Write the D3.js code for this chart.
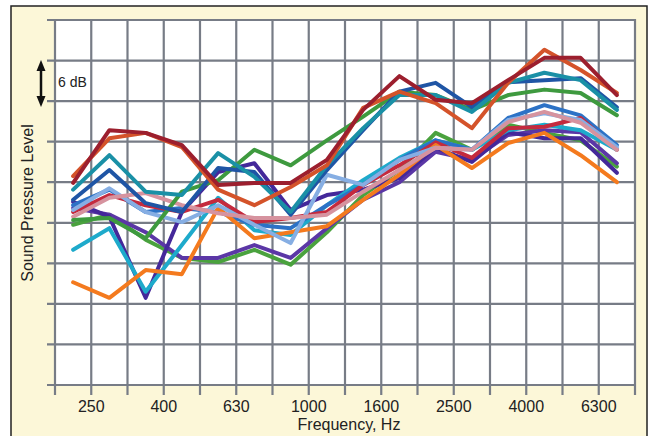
<!DOCTYPE html>
<html>
<head>
<meta charset="utf-8">
<script src="https://cdn.jsdelivr.net/npm/d3@7"></script>
<style>
  body { margin: 0; background: #fff; }
  text { font-family: "Liberation Sans", Arial, sans-serif; fill: #222; }
</style>
</head>
<body>
<div id="chart"></div>
<script>
// 1/3 octave band edges (grid lines) and the labels under every other one
let bands = ["200","250","315","400","500","630","800","1000","1250","1600","2000","2500","3150","4000","5000","6300","8000"];
let tickLabels = ["250","400","630","1000","1600","2500","4000","6300"];

// levels in dB (relative), one value per band
let darkRed   = [29.9,37.7,37.3,35.5,29.6,29.9,29.9,33.3,40.7,45.7,42.2,41.7,45.1,48.4,48.4,42.9];
let orangeRed = [30.9,36.5,37.3,35.2,28.9,26.6,29.3,32.5,41.0,43.4,41.7,38.0,44.7,49.6,46.6,43.2];
let teal      = [28.9,34.0,28.6,28.1,34.3,30.8,25.6,32.5,38.0,42.9,42.9,40.4,44.7,46.2,45.1,40.7];
let darkBlue  = [27.4,31.8,26.9,25.6,32.1,31.5,25.2,31.8,37.7,43.4,44.7,41.1,44.8,45.1,45.4,41.1];
let greenHi   = [24.4,24.7,21.7,28.6,30.3,34.8,32.5,36.2,39.7,43.4,42.9,40.7,42.9,43.7,43.2,39.9];
let greenLo   = [23.7,25.2,21.5,18.8,18.2,20.0,17.8,22.6,28.1,31.8,37.3,34.8,38.5,37.3,36.2,32.3];
let cyan      = [20.0,23.2,13.8,20.7,27.7,22.9,22.2,26.6,30.3,33.6,36.2,34.8,37.7,38.5,37.7,34.8];
let indigo    = [27.1,24.9,12.9,25.6,31.5,32.8,25.9,28.1,28.9,30.6,35.1,33.0,37.4,36.5,36.5,31.4];
let violet    = [26.2,25.2,22.6,18.8,18.8,20.7,18.8,23.2,27.4,30.0,34.5,33.3,37.0,37.7,37.4,32.8];
let orange    = [15.2,12.9,17.0,16.4,26.2,21.7,22.6,23.5,27.4,31.1,35.5,32.1,35.8,37.3,34.0,30.0];
let lightBlue = [25.9,29.1,25.6,24.1,26.6,23.7,21.0,31.1,29.6,33.3,35.1,34.8,39.2,40.2,39.2,35.2];
let pink      = [24.9,27.7,28.4,26.6,25.4,24.7,24.7,25.2,28.6,31.8,35.1,34.8,38.9,40.4,38.8,34.8];
let blue      = [26.6,28.9,25.6,26.2,25.6,23.7,23.2,26.6,29.6,33.3,36.2,34.8,39.5,41.4,39.9,35.5];
let crimson   = [25.6,28.1,26.6,25.6,27.4,24.1,24.7,25.6,29.6,32.5,35.9,33.6,38.0,38.2,39.5,34.8];

// drawing order: bottom first
let series = [
  {values: greenLo,   color: "#4aa23e"},
  {values: violet,    color: "#5b37a6"},
  {values: indigo,    color: "#44289a"},
  {values: cyan,      color: "#1eaacb"},
  {values: blue,      color: "#2c72c6"},
  {values: crimson,   color: "#c42a3e"},
  {values: orange,    color: "#f47a1e"},
  {values: lightBlue, color: "#86aee3"},
  {values: pink,      color: "#d6939f"},
  {values: greenHi,   color: "#3e9a3f"},
  {values: darkBlue,  color: "#1f55a5"},
  {values: teal,      color: "#1a90a6"},
  {values: orangeRed, color: "#d4532a"},
  {values: darkRed,   color: "#9c1f2e"}
];

let width = 649, height = 436;
let plotLeft = 55, plotRight = 635, plotTop = 20, plotBottom = 385;

let svg = d3.select("#chart")
  .append("svg")
    .attr("width", width)
    .attr("height", height);

// cream panel with black frame
svg.append("rect")
  .attr("x", 11).attr("y", 6)
  .attr("width", 636).attr("height", 440)
  .attr("fill", "#fcf7d8")
  .attr("stroke", "#222")
  .attr("stroke-width", 1.5);

svg.append("rect")
  .attr("x", plotLeft).attr("y", plotTop)
  .attr("width", plotRight - plotLeft).attr("height", plotBottom - plotTop)
  .attr("fill", "#fff");

let x = d3.scaleLinear().domain([0, bands.length - 1]).range([plotLeft, plotRight]);
let y = d3.scaleLinear().domain([0, 54]).range([plotBottom, plotTop]);

// grid, lines run a bit past the plot like ticks
let gridColor = "#777c86";
svg.append("g")
  .selectAll("line")
  .data(d3.range(0, 55, 6))
  .enter()
  .append("line")
    .attr("x1", plotLeft - 8).attr("x2", plotRight)
    .attr("y1", d => y(d)).attr("y2", d => y(d))
    .attr("stroke", gridColor)
    .attr("stroke-width", 2.2);

svg.append("g")
  .selectAll("line")
  .data(bands)
  .enter()
  .append("line")
    .attr("x1", (d, i) => x(i)).attr("x2", (d, i) => x(i))
    .attr("y1", plotTop - 1).attr("y2", plotBottom + 10)
    .attr("stroke", gridColor)
    .attr("stroke-width", 2.2);

svg.append("g")
  .selectAll("text")
  .data(tickLabels)
  .enter()
  .append("text")
    .attr("x", d => x(bands.indexOf(d)))
    .attr("y", 412)
    .attr("text-anchor", "middle")
    .style("font-size", "16px")
    .text(d => d);

svg.append("text")
  .attr("x", (plotLeft + plotRight) / 2 + 4)
  .attr("y", 430)
  .attr("text-anchor", "middle")
  .style("font-size", "16px")
  .text("Frequency, Hz");

svg.append("text")
  .attr("transform", "translate(33," + 203 + ") rotate(-90)")
  .attr("text-anchor", "middle")
  .style("font-size", "16px")
  .text("Sound Pressure Level");

// the curves, points sit in the middle of each band
let line = d3.line()
  .x((d, i) => x(i + 0.5))
  .y(d => y(d));

svg.append("g")
  .selectAll("path")
  .data(series)
  .enter()
  .append("path")
    .attr("d", d => line(d.values))
    .attr("fill", "none")
    .attr("stroke", d => d.color)
    .attr("stroke-width", 4)
    .attr("stroke-linejoin", "round")
    .attr("stroke-linecap", "round");

// 6 dB scale marker
let ax = 41, ay1 = 60, ay2 = 107;
svg.append("line")
  .attr("x1", ax).attr("x2", ax)
  .attr("y1", ay1 + 8).attr("y2", ay2 - 8)
  .attr("stroke", "#111")
  .attr("stroke-width", 2.5);
svg.append("path")
  .attr("d", `M${ax},${ay1} L${ax - 4.5},${ay1 + 11} L${ax + 4.5},${ay1 + 11} Z`)
  .attr("fill", "#111");
svg.append("path")
  .attr("d", `M${ax},${ay2} L${ax - 4.5},${ay2 - 11} L${ax + 4.5},${ay2 - 11} Z`)
  .attr("fill", "#111");
svg.append("text")
  .attr("x", 58)
  .attr("y", 87)
  .style("font-size", "14px")
  .text("6 dB");
</script>
</body>
</html>
